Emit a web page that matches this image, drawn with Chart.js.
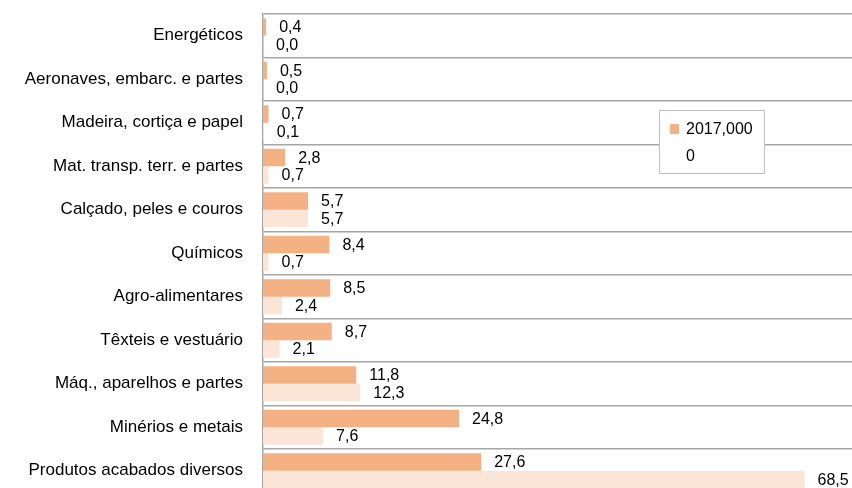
<!DOCTYPE html>
<html>
<head>
<meta charset="utf-8">
<script src="https://cdn.jsdelivr.net/npm/chart.js@4"></script>
<style>
    html, body { margin: 0; padding: 0; background: #fff; overflow: hidden; }
    #wrap { width: 852px; height: 488px; overflow: hidden; }
</style>
</head>
<body>
<div id="wrap"><canvas id="chart" width="852" height="496" style="width:852px;height:496px"></canvas></div>
<script>
const categories = [
    "Energéticos",
    "Aeronaves, embarc. e partes",
    "Madeira, cortiça e papel",
    "Mat. transp. terr. e partes",
    "Calçado, peles e couros",
    "Químicos",
    "Agro-alimentares",
    "Têxteis e vestuário",
    "Máq., aparelhos e partes",
    "Minérios e metais",
    "Produtos acabados diversos"
];
const seriesNames = ["2017,000", "0"];
const values2017 = [0.4, 0.5, 0.7, 2.8, 5.7, 8.4, 8.5, 8.7, 11.8, 24.8, 27.6];
const valuesZero = [0.0, 0.0, 0.1, 0.7, 5.7, 0.7, 2.4, 2.1, 12.3, 7.6, 68.5];

const FONT = "'Liberation Sans', Arial, sans-serif";

const valueLabels = {
    id: "valueLabels",
    afterDatasetsDraw(chart) {
        const ctx = chart.ctx;
        ctx.save();
        ctx.font = "16px " + FONT;
        ctx.fillStyle = "#000";
        ctx.textBaseline = "middle";
        ctx.textAlign = "left";
        chart.data.datasets.forEach((ds, i) => {
            chart.getDatasetMeta(i).data.forEach((bar, j) => {
                const txt = ds.data[j].toFixed(1).replace(".", ",");
                ctx.fillText(txt, bar.x + 13, bar.y + 1);
            });
        });
        ctx.restore();
    }
};

const boxLegend = {
    id: "boxLegend",
    afterDraw(chart) {
        const ctx = chart.ctx;
        ctx.save();
        ctx.fillStyle = "#fff";
        ctx.fillRect(659, 110, 105, 63);
        ctx.strokeStyle = "#bfbfbf";
        ctx.lineWidth = 1;
        ctx.strokeRect(659.5, 110.5, 105, 63);
        ctx.fillStyle = chart.data.datasets[0].backgroundColor;
        ctx.fillRect(670, 124, 9, 10);
        ctx.fillStyle = "#000";
        ctx.font = "16px " + FONT;
        ctx.textBaseline = "middle";
        ctx.fillText(chart.data.datasets[0].label, 686, 130);
        ctx.fillText(chart.data.datasets[1].label, 686, 157);
        ctx.restore();
    }
};

new Chart(document.getElementById("chart"), {
    type: "bar",
    data: {
        labels: categories,
        datasets: [
            {
                label: seriesNames[0],
                data: values2017,
                backgroundColor: "#F4B183",
                categoryPercentage: 0.8,
                barPercentage: 1.0
            },
            {
                label: seriesNames[1],
                data: valuesZero,
                backgroundColor: "#FBE5D6",
                categoryPercentage: 0.8,
                barPercentage: 1.0
            }
        ]
    },
    options: {
        indexAxis: "y",
        responsive: false,
        animation: false,
        layout: { padding: { top: 14, bottom: 3.5, left: 0, right: 0 } },
        plugins: {
            legend: { display: false },
            tooltip: { enabled: false }
        },
        scales: {
            x: {
                display: false,
                min: 0,
                max: 74.5
            },
            y: {
                afterFit: s => {
                    s.width = 263;
                    s.paddingTop = 0;
                    s.paddingBottom = 0;
                },
                grid: { color: "#a6a6a6", lineWidth: 1.5, drawTicks: false },
                border: { color: "#a6a6a6", width: 1.5 },
                ticks: {
                    padding: 20,
                    color: "#000",
                    font: { family: FONT, size: 17 }
                }
            }
        }
    },
    plugins: [valueLabels, boxLegend]
});
</script>
</body>
</html>
